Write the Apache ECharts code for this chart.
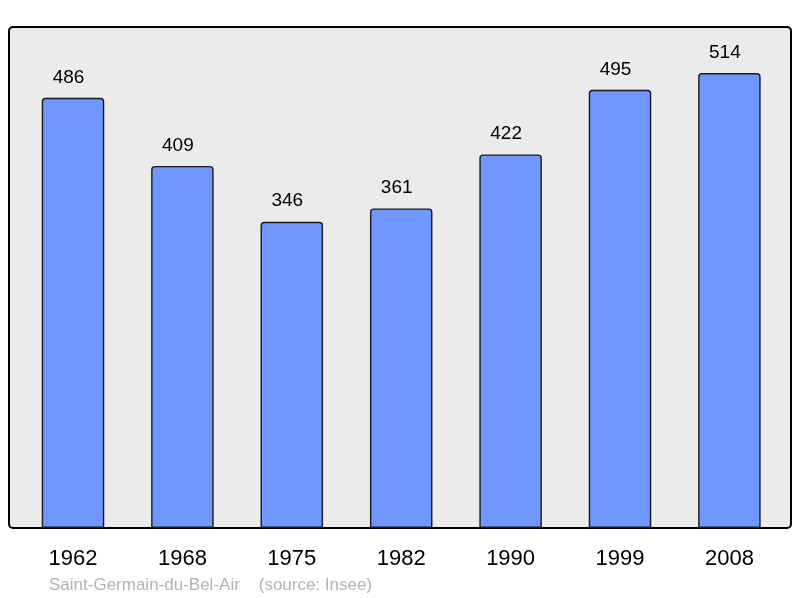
<!DOCTYPE html>
<html><head><meta charset="utf-8">
<script src="https://cdn.jsdelivr.net/npm/echarts@6/dist/echarts.min.js"></script>
<style>html,body{margin:0;padding:0;background:#fff}#c{width:800px;height:598px}</style>
</head><body><div id="c"></div>
<script>
const years = ['1962','1968','1975','1982','1990','1999','2008'];
const population = [486,409,346,361,422,495,514];
const caption = 'Saint-Germain-du-Bel-Air    (source: Insee)';

const chart = echarts.init(document.getElementById('c'), null, {renderer:'canvas'});
chart.setOption({
  animation:false,
  backgroundColor:'#ffffff',
  textStyle:{fontFamily:'Liberation Sans, Arial, sans-serif'},
  graphic:[
    {type:'rect', z:-10, shape:{x:9,y:27,width:782,height:501,r:4},
     style:{fill:'#ebebeb',stroke:'#000',lineWidth:2}},
    {type:'text', left:49, top:577, style:{text:caption, fill:'#b3b3b3', font:'17px "Liberation Sans", Arial, sans-serif'}}
  ],
  grid:{left:18.3, width:765.8, top:27, bottom:70},
  xAxis:{type:'category', data:years, axisLine:{show:false}, axisTick:{show:false},
    axisLabel:{fontSize:22, color:'#000', margin:20, fontFamily:'Liberation Sans, Arial, sans-serif'}},
  yAxis:{type:'value', min:0, max:566, show:false, splitLine:{show:false}},
  series:[{type:'bar', data:population, barWidth:62.5, z:5,
    itemStyle:{color:'#7097ff', borderColor:'#1a1a1a', borderWidth:1.4, borderRadius:[3,3,0,0]},
    label:{show:true, position:'top', distance:11, offset:[-4.5,0], fontSize:19, color:'#000', fontFamily:'Liberation Sans, Arial, sans-serif'}
  }]
});
</script></body></html>
